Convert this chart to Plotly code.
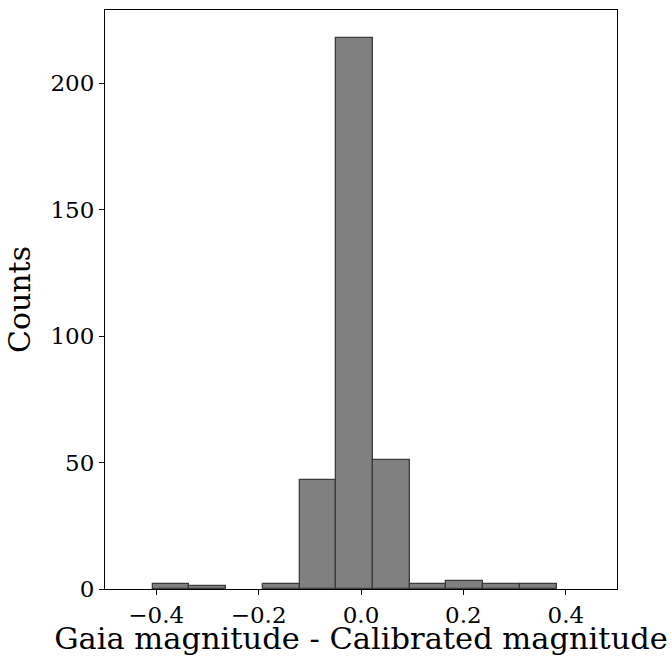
import numpy as np
import plotly.graph_objects as go

bin_edges = [-0.4068, -0.3351, -0.2634, -0.1917, -0.1200, -0.0483, 0.0234, 0.0951, 0.1668, 0.2385, 0.3102, 0.3822]
counts = [2, 1, 0, 2, 43, 218, 51, 2, 3, 2, 2]
x_ticks = [-0.4, -0.2, 0.0, 0.2, 0.4]
y_ticks = [0, 50, 100, 150, 200]

edges = np.array(bin_edges)
centers = (edges[:-1] + edges[1:]) / 2
widths = edges[1:] - edges[:-1]
heights = [c if c > 0 else None for c in counts]

fig = go.Figure(go.Bar(
    x=centers, y=heights, width=widths,
    marker=dict(color="#808080", line=dict(color="#3c3c3c", width=1.3)),
))

font = "DejaVu Serif"
fig.update_layout(
    width=672, height=656,
    margin=dict(l=105, r=55, t=10, b=67),
    plot_bgcolor="white", paper_bgcolor="white",
    showlegend=False, bargap=0,
    font=dict(family=font, color="black"),
)
fig.update_xaxes(
    range=[-0.5, 0.5], tickvals=x_ticks, ticktext=["\u22120.4", "\u22120.2", "0.0", "0.2", "0.4"],
    ticks="outside", ticklen=5, tickwidth=1, tickcolor="black",
    showline=True, linecolor="black", linewidth=1, mirror=True,
    showgrid=False, zeroline=False, automargin=False,
    tickfont=dict(size=23, family=font),
    title=dict(text="Gaia magnitude - Calibrated magnitude", font=dict(size=30.5, family=font), standoff=2),
)
fig.update_yaxes(
    range=[0, 228.9], tickvals=y_ticks,
    ticks="outside", ticklen=5, tickwidth=1, tickcolor="black",
    showline=True, linecolor="black", linewidth=1, mirror=True,
    showgrid=False, zeroline=False, automargin=False,
    tickfont=dict(size=23, family=font),
    title=dict(text="Counts", font=dict(size=30, family=font), standoff=10),
)
fig.write_html("out.html")
